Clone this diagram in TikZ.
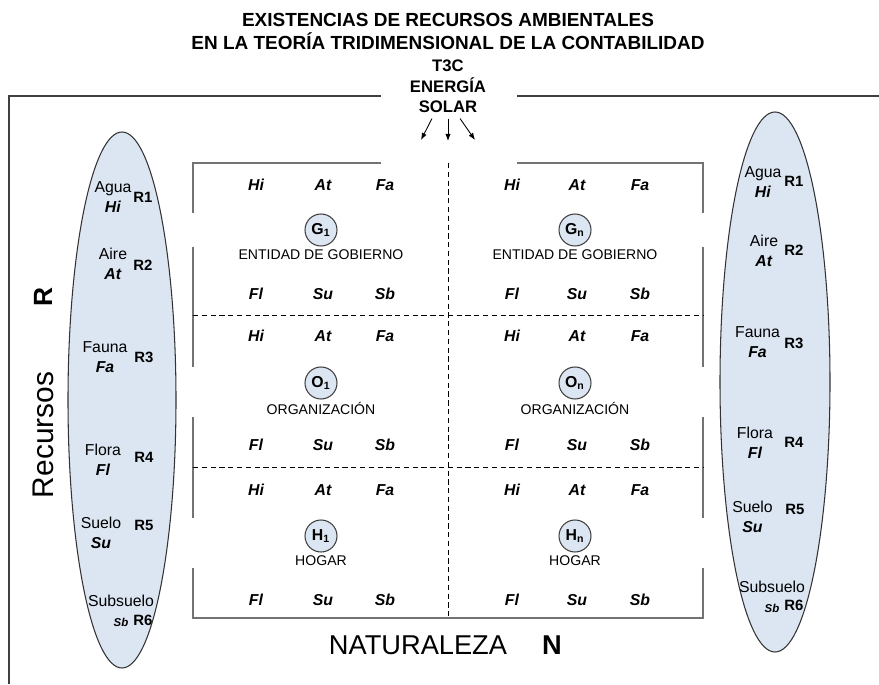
\documentclass[tikz,border=0pt]{standalone}
\usepackage{fontspec}
\setmainfont{Liberation Sans}
\usetikzlibrary{positioning, arrows.meta, shapes.geometric}
\definecolor{paleblue}{RGB}{220,230,242}

\begin{document}
\begin{tikzpicture}[
    pod/.style={ellipse, draw=black!80, fill=paleblue, line width=0.6pt,
                minimum width=2.16cm, minimum height=10.72cm, inner sep=0pt},
    ent/.style={circle, draw=black!75, fill=paleblue, line width=0.6pt,
                minimum size=0.64cm, inner sep=0pt, font=\fontsize{9}{10}\selectfont\bfseries},
    entname/.style={font=\fontsize{8}{9}\selectfont, inner sep=0pt},
    res/.style={font=\fontsize{9}{10}\selectfont\bfseries\itshape},
    resname/.style={font=\fontsize{9}{11.4}\selectfont, align=center, inner sep=0pt},
    rnum/.style={font=\fontsize{8.5}{10}\selectfont\bfseries, inner sep=0pt},
    heading/.style={font=\fontsize{10.8}{13}\selectfont\bfseries, anchor=base, inner sep=0pt},
    sun/.style={font=\fontsize{9.5}{11}\selectfont\bfseries, anchor=base, inner sep=0pt},
    edge/.style={draw=black!55, line width=0.8pt},
    frame/.style={draw=black!75, line width=0.7pt},
    divider/.style={densely dashed, line width=0.45pt},
    ray/.style={-{Latex[length=4pt, width=3pt]}, line width=0.5pt}
]
\useasboundingbox (0,0) rectangle (17.58,13.68);

    % === Title and sun ===
    \node[heading] (title1) at (8.96,13.14) {EXISTENCIAS DE RECURSOS AMBIENTALES};
    \node[heading] (title2) at (8.96,12.68) {EN LA TEORÍA TRIDIMENSIONAL DE LA CONTABILIDAD};
    \node[sun] (t3c) at (8.96,12.24) {T3C};
    \node[sun] (energia) at (8.96,11.82) {ENERGÍA};
    \node[sun] (solar) at (8.96,11.42) {SOLAR};
    \coordinate (sunL) at (8.42,10.88);
    \coordinate (sunM) at (8.96,10.86);
    \coordinate (sunR) at (9.50,10.88);
    \draw[ray] ([xshift=-3.2mm, yshift=-1mm]solar.south) -- (sunL);
    \draw[ray] ([yshift=-1mm]solar.south) -- (sunM);
    \draw[ray] ([xshift=2.4mm, yshift=-1mm]solar.south) -- (sunR);

    % === Outer frame ===
    \draw[frame] (7.62,11.76) -- (0.18,11.76) -- (0.18,0);
    \draw[frame] (10.34,11.76) -- (17.58,11.76);

    % === Inner box ===
    \draw[edge] (7.62,10.42) -- (3.86,10.42) -- (3.86,9.42);
    \draw[edge] (10.34,10.42) -- (14.06,10.42) -- (14.06,9.42);
    \draw[edge] (3.86,8.74) -- (3.86,6.34);
    \draw[edge] (14.06,8.74) -- (14.06,6.34);
    \draw[edge] (3.86,5.34) -- (3.86,3.32);
    \draw[edge] (14.06,5.34) -- (14.06,3.32);
    \draw[edge] (3.86,2.32) -- (3.86,1.32) -- (14.06,1.32) -- (14.06,2.32);
    \draw[divider] (3.86,7.38) -- (14.06,7.38);
    \draw[divider] (3.86,4.34) -- (14.06,4.34);
    \draw[divider] (8.96,10.42) -- (8.96,1.32);

    % === Row 1: Government ===
    \node[res] (g1hi) at (5.12,9.98) {Hi}; \node[res] (g1at) at (6.46,9.98) {At}; \node[res] (g1fa) at (7.70,9.98) {Fa};
    \node[res] (gnhi) at (10.24,9.98) {Hi}; \node[res] (gnat) at (11.54,9.98) {At}; \node[res] (gnfa) at (12.80,9.98) {Fa};
    \node[ent] (g1) at (6.42,9.08) {G\textsubscript{1}};
    \node[ent] (gn) at (11.50,9.08) {G\textsubscript{n}};
    \node[entname, below=1.5pt of g1] (g1name) {ENTIDAD DE GOBIERNO};
    \node[entname, below=1.5pt of gn] (gnname) {ENTIDAD DE GOBIERNO};
    \node[res] (g1fl) at (5.12,7.80) {Fl}; \node[res] (g1su) at (6.46,7.80) {Su}; \node[res] (g1sb) at (7.70,7.80) {Sb};
    \node[res] (gnfl) at (10.24,7.80) {Fl}; \node[res] (gnsu) at (11.54,7.80) {Su}; \node[res] (gnsb) at (12.80,7.80) {Sb};

    % === Row 2: Organization ===
    \node[res] (o1hi) at (5.12,6.96) {Hi}; \node[res] (o1at) at (6.46,6.96) {At}; \node[res] (o1fa) at (7.70,6.96) {Fa};
    \node[res] (onhi) at (10.24,6.96) {Hi}; \node[res] (onat) at (11.54,6.96) {At}; \node[res] (onfa) at (12.80,6.96) {Fa};
    \node[ent] (o1) at (6.42,6.02) {O\textsubscript{1}};
    \node[ent] (on) at (11.50,6.02) {O\textsubscript{n}};
    \node[entname, below=1.5pt of o1] (o1name) {ORGANIZACIÓN};
    \node[entname, below=1.5pt of on] (onname) {ORGANIZACIÓN};
    \node[res] (o1fl) at (5.12,4.78) {Fl}; \node[res] (o1su) at (6.46,4.78) {Su}; \node[res] (o1sb) at (7.70,4.78) {Sb};
    \node[res] (onfl) at (10.24,4.78) {Fl}; \node[res] (onsu) at (11.54,4.78) {Su}; \node[res] (onsb) at (12.80,4.78) {Sb};

    % === Row 3: Household ===
    \node[res] (h1hi) at (5.12,3.88) {Hi}; \node[res] (h1at) at (6.46,3.88) {At}; \node[res] (h1fa) at (7.70,3.88) {Fa};
    \node[res] (hnhi) at (10.24,3.88) {Hi}; \node[res] (hnat) at (11.54,3.88) {At}; \node[res] (hnfa) at (12.80,3.88) {Fa};
    \node[ent] (h1) at (6.42,2.96) {H\textsubscript{1}};
    \node[ent] (hn) at (11.50,2.96) {H\textsubscript{n}};
    \node[entname, below=1.5pt of h1] (h1name) {HOGAR};
    \node[entname, below=1.5pt of hn] (hnname) {HOGAR};
    \node[res] (h1fl) at (5.12,1.68) {Fl}; \node[res] (h1su) at (6.46,1.68) {Su}; \node[res] (h1sb) at (7.70,1.68) {Sb};
    \node[res] (hnfl) at (10.24,1.68) {Fl}; \node[res] (hnsu) at (11.54,1.68) {Su}; \node[res] (hnsb) at (12.80,1.68) {Sb};

    % === Left resources ===
    \node[pod] (podL) at (2.44,5.68) {};
    \node[resname] (lagua) at (2.26,9.74) {Agua\\\textbf{\textit{Hi}}};
    \node[resname] (laire) at (2.26,8.40) {Aire\\\textbf{\textit{At}}};
    \node[resname] (lfauna) at (2.10,6.54) {Fauna\\\textbf{\textit{Fa}}};
    \node[resname] (lflora) at (2.06,4.48) {Flora\\\textbf{\textit{Fl}}};
    \node[resname] (lsuelo) at (2.02,3.02) {Suelo\\\textbf{\textit{Su}}};
    \node[resname] (lsub) at (2.42,1.46) {Subsuelo\\{\fontsize{6.5}{8}\selectfont\textbf{\textit{Sb}}}};
    \node[rnum] (lr1) at (2.86,9.74) {R1};
    \node[rnum] (lr2) at (2.86,8.38) {R2};
    \node[rnum] (lr3) at (2.88,6.54) {R3};
    \node[rnum] (lr4) at (2.88,4.54) {R4};
    \node[rnum] (lr5) at (2.88,3.18) {R5};
    \node[rnum] (lr6) at (2.86,1.28) {R6};

    % === Right resources ===
    \node[pod, minimum width=2.2cm, minimum height=10.8cm] (podR) at (15.50,6.04) {};
    \node[resname] (ragua) at (15.26,10.04) {Agua\\\textbf{\textit{Hi}}};
    \node[resname] (raire) at (15.28,8.66) {Aire\\\textbf{\textit{At}}};
    \node[resname] (rfauna) at (15.15,6.83) {Fauna\\\textbf{\textit{Fa}}};
    \node[resname] (rflora) at (15.10,4.82) {Flora\\\textbf{\textit{Fl}}};
    \node[resname] (rsuelo) at (15.05,3.34) {Suelo\\\textbf{\textit{Su}}};
    \node[resname] (rsub) at (15.44,1.75) {Subsuelo\\{\fontsize{6.5}{8}\selectfont\textbf{\textit{Sb}}}};
    \node[rnum] (rr1) at (15.88,10.06) {R1};
    \node[rnum] (rr2) at (15.88,8.68) {R2};
    \node[rnum] (rr3) at (15.88,6.82) {R3};
    \node[rnum] (rr4) at (15.88,4.84) {R4};
    \node[rnum] (rr5) at (15.90,3.50) {R5};
    \node[rnum] (rr6) at (15.88,1.58) {R6};

    % Axis labels
    \node[rotate=90, font=\fontsize{17}{20}\selectfont] (recursos) at (0.86,4.98) {Recursos};
    \node[rotate=90, font=\fontsize{15}{18}\selectfont\bfseries] (raxis) at (0.86,7.74) {R};
    \node[font=\fontsize{15.5}{18}\selectfont] (naturaleza) at (8.36,0.78) {NATURALEZA};
    \node[font=\fontsize{15.5}{18}\selectfont\bfseries] (naxis) at (11.04,0.78) {N};

\end{tikzpicture}
\end{document}
